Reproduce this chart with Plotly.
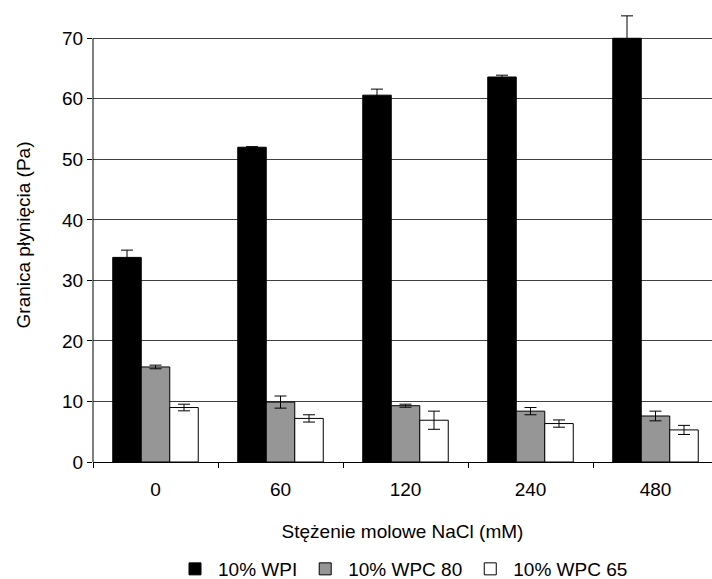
import plotly.graph_objects as go

categories = ["0", "60", "120", "240", "480"]
series_names = ["10% WPI", "10% WPC 80", "10% WPC 65"]
wpi = [33.8, 52.0, 60.6, 63.6, 70.0]
wpi_err = [1.2, 0.1, 1.0, 0.3, 3.7]
wpc80 = [15.7, 9.9, 9.3, 8.4, 7.6]
wpc80_err = [0.3, 1.0, 0.25, 0.6, 0.8]
wpc65 = [9.0, 7.2, 6.9, 6.35, 5.3]
wpc65_err = [0.55, 0.6, 1.5, 0.6, 0.75]
y_ticks = [0, 10, 20, 30, 40, 50, 60, 70]

FONT = "Liberation Sans, Arial, sans-serif"
FS = 19

fills = ["#000000", "#969696", "#ffffff"]
vals = [wpi, wpc80, wpc65]
errs = [wpi_err, wpc80_err, wpc65_err]

fig = go.Figure()
for name, v, e, c in zip(series_names, vals, errs, fills):
    fig.add_trace(go.Bar(
        x=categories, y=v, name=name,
        marker=dict(color=c, line=dict(color="#000000", width=1)),
        error_y=dict(type="data", array=e, visible=True, color="#000000",
                     thickness=1, width=6),
    ))

fig.update_layout(
    width=712, height=579,
    margin=dict(l=93, r=0, t=8, b=117, autoexpand=False),
    paper_bgcolor="white", plot_bgcolor="white",
    barmode="group", bargap=0.316, bargroupgap=0,
    font=dict(family=FONT, size=FS, color="#000000"),
    showlegend=True,
    legend=dict(orientation="h", x=0.5, xanchor="center", y=-0.2357,
                yanchor="middle", font=dict(size=FS), traceorder="normal",
                itemwidth=36),
    xaxis=dict(type="category", range=[-0.5, 4.452], showline=True,
               linecolor="#000000", linewidth=1, ticks="outside",
               tickson="boundaries", ticklen=5, tickcolor="#000000",
               ticklabelstandoff=10, showgrid=False,
               title=dict(text="Stężenie molowe NaCl (mM)", standoff=25,
                          font=dict(size=FS))),
    yaxis=dict(range=[0, 75], tickvals=y_ticks, showline=False,
               zeroline=False, showgrid=True, gridcolor="#404040",
               gridwidth=1, ticks="outside", ticklen=5,
               tickcolor="#000000",
               title=dict(text="Granica płynięcia (Pa)", standoff=26,
                          font=dict(size=FS))),
)
fig.add_shape(type="line", xref="paper", yref="y", x0=0, x1=0, y0=0,
              y1=70, line=dict(color="#000000", width=1))

fig.write_html("out.html")
